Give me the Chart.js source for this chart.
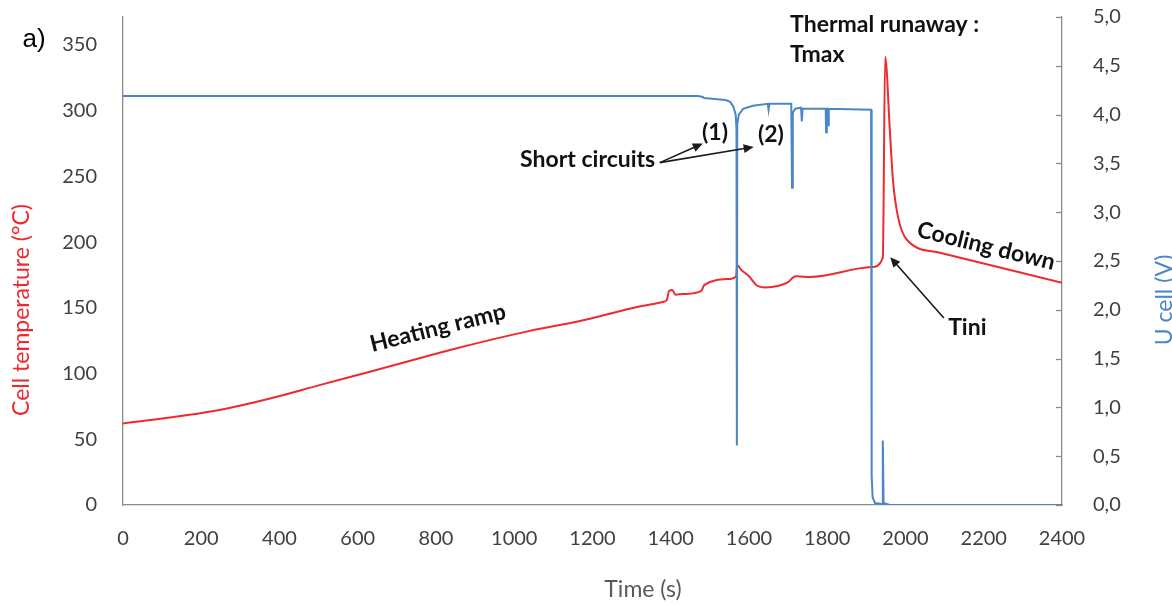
<!DOCTYPE html>
<html>
<head>
<meta charset="utf-8">
<script src="https://cdn.jsdelivr.net/npm/chart.js@4.4.1/dist/chart.umd.min.js"></script>
<style>
  html, body { margin: 0; padding: 0; background: #ffffff; }
  #wrap { width: 1172px; height: 605px; }
</style>
</head>
<body>
<div id="wrap"><canvas id="c" width="1172" height="605"></canvas></div>
<script>
// Cell temperature record (time in s, temperature in °C)
const tempTime = [0, 120, 250, 376, 500, 631, 760, 836, 1040, 1168, 1314, 1380, 1390, 1396, 1404, 1412,
  1431, 1478, 1486, 1551, 1567, 1570, 1580, 1600, 1620, 1640, 1700, 1712, 1722, 1756, 1914, 1942, 1948,
  1960, 1968, 1981, 2004, 2088, 2400];
const tempC = [62, 66.5, 72.5, 81, 91, 101.4, 111.8, 118, 132.5, 140, 150.6, 154.5, 156, 163, 163.5, 160,
  160.5, 163, 167.5, 172, 174, 182.5, 179, 174, 167, 165.5, 169.5, 173, 174, 173.5, 181, 188, 341,
  285, 247, 219, 201.6, 192, 169];

// Cell voltage record (time in s, voltage in V)
const voltTime = [0, 1470, 1482, 1485, 1540, 1552, 1560, 1566, 1568, 1569, 1570, 1574, 1585, 1610, 1648,
  1650, 1652, 1708, 1710, 1712, 1718, 1733, 1735, 1737, 1796, 1797, 1799, 1801, 1802, 1804, 1912, 1913,
  1914, 1916, 1922, 1940, 1942, 1944, 1960, 2400];
const voltU = [4.19, 4.19, 4.18, 4.17, 4.15, 4.13, 4.08, 4.0, 3.85, 0.61, 3.9, 4.0, 4.06, 4.09, 4.11,
  4.05, 4.11, 4.11, 3.25, 4.02, 4.06, 4.07, 3.93, 4.06, 4.06, 3.82, 4.06, 4.06, 3.89, 4.06, 4.05, 4.0,
  0.3, 0.08, 0.02, 0.01, 0.66, 0.02, 0, 0];

// Axis tick values
const timeTicks = [0, 200, 400, 600, 800, 1000, 1200, 1400, 1600, 1800, 2000, 2200, 2400];
const tempTicks = [0, 50, 100, 150, 200, 250, 300, 350];
const voltTicks = [0, 0.5, 1.0, 1.5, 2.0, 2.5, 3.0, 3.5, 4.0, 4.5, 5.0];

const RED = '#EE2A2F';
const BLUE = '#4A86C8';
const AXIS_GREY = '#8C8C8C';
const LABEL_GREY = '#404040';
const FONT = 'Lato, "Open Sans", sans-serif';

const toPoints = (xs, ys) => xs.map((t, i) => ({ x: t, y: ys[i] }));
const setTicks = values => scale => { scale.ticks = values.map(v => ({ value: v })); };
const fixWidth = w => scale => {
  scale.width = w;
  scale.paddingTop = 0;
  scale.paddingBottom = 0;
};

// Annotations, positioned in (time, temperature) data space
const notes = {
  draw(chart) {
    const { ctx, scales: { x, yT, yV } } = chart;
    const P = (t, v) => [x.getPixelForValue(t), yT.getPixelForValue(v)];

    ctx.save();
    // tick marks of the voltage axis point into the plot
    ctx.strokeStyle = AXIS_GREY;
    ctx.lineWidth = 1.3;
    voltTicks.forEach(v => {
      const py = Math.round(yV.getPixelForValue(v)) + 0.5;
      ctx.beginPath();
      ctx.moveTo(yV.left - 6, py);
      ctx.lineTo(yV.left, py);
      ctx.stroke();
    });

    const text = (s, t, v, opt = {}) => {
      const [px, py] = P(t, v);
      ctx.save();
      ctx.translate(px, py);
      if (opt.rot) ctx.rotate(opt.rot * Math.PI / 180);
      ctx.font = opt.font || `bold 23px ${FONT}`;
      ctx.fillStyle = opt.color || '#111111';
      ctx.textAlign = opt.align || 'left';
      ctx.textBaseline = 'middle';
      ctx.fillText(s, 0, 0);
      ctx.restore();
    };
    const arrow = (t0, v0, t1, v1) => {
      const [x0, y0] = P(t0, v0);
      const [x1, y1] = P(t1, v1);
      const a = Math.atan2(y1 - y0, x1 - x0);
      const L = 10, W = 4.5;
      ctx.strokeStyle = '#1a1a1a';
      ctx.fillStyle = '#1a1a1a';
      ctx.lineWidth = 1.6;
      ctx.beginPath();
      ctx.moveTo(x0, y0);
      ctx.lineTo(x1 - Math.cos(a) * L * 0.8, y1 - Math.sin(a) * L * 0.8);
      ctx.stroke();
      ctx.beginPath();
      ctx.moveTo(x1, y1);
      ctx.lineTo(x1 - Math.cos(a) * L - Math.sin(a) * W, y1 - Math.sin(a) * L + Math.cos(a) * W);
      ctx.lineTo(x1 - Math.cos(a) * L + Math.sin(a) * W, y1 - Math.sin(a) * L - Math.cos(a) * W);
      ctx.closePath();
      ctx.fill();
    };

    text('Thermal runaway :', 1705, 365.2);
    text('Tmax', 1705, 342.4);
    text('Short circuits', 1015, 262.5);
    text('(1)', 1513, 283, { align: 'center' });
    text('(2)', 1656, 281.5, { align: 'center' });
    arrow(1372, 260.5, 1482, 275);
    arrow(1372, 260.5, 1612, 272.4);
    text('Heating ramp', 805, 134.7, { align: 'center', rot: -14 });
    text('Cooling down', 2206, 197, { align: 'center', rot: 13.7 });
    text('Tini', 2109, 134.7);
    arrow(2098, 142.3, 1961, 188.5);

    // axis titles and panel letter
    const plain = (s, px, py, color, font, rot) => {
      ctx.save();
      ctx.translate(px, py);
      if (rot) ctx.rotate(rot * Math.PI / 180);
      ctx.font = font;
      ctx.fillStyle = color;
      ctx.textAlign = 'center';
      ctx.textBaseline = 'middle';
      ctx.fillText(s, 0, 0);
      ctx.restore();
    };
    plain('Cell temperature (°C)', 22, 310, RED, `23px ${FONT}`, -90);
    plain('U cell (V)', 1165, 300, BLUE, `23px ${FONT}`, -90);
    plain('Time (s)', 643, 590, '#595959', `23px ${FONT}`, 0);
    plain('a)', 34, 40, '#000000', '26px "Liberation Sans", Arial, sans-serif', 0);
    ctx.restore();
  }
};

new Chart(document.getElementById('c'), {
  type: 'line',
  data: {
    datasets: [
      {
        label: 'U cell (V)',
        data: toPoints(voltTime, voltU),
        yAxisID: 'yV',
        borderColor: BLUE,
        borderWidth: 2,
        pointRadius: 0,
        tension: 0,
        fill: false
      },
      {
        label: 'Cell temperature (°C)',
        data: toPoints(tempTime, tempC),
        yAxisID: 'yT',
        borderColor: RED,
        borderWidth: 2,
        pointRadius: 0,
        cubicInterpolationMode: 'monotone',
        fill: false
      }
    ]
  },
  options: {
    responsive: false,
    animation: false,
    devicePixelRatio: 1,
    layout: { padding: { top: 17, left: 0, right: 0, bottom: 0 } },
    plugins: { legend: { display: false }, tooltip: { enabled: false } },
    scales: {
      x: {
        type: 'linear',
        min: 0,
        max: 2400,
        afterBuildTicks: setTicks(timeTicks),
        afterFit: s => { s.height = 100; s.paddingLeft = 0; s.paddingRight = 0; },
        grid: { display: false, drawTicks: false },
        border: { display: true, color: AXIS_GREY, width: 1.3 },
        ticks: {
          padding: 22, color: LABEL_GREY, font: { family: FONT, size: 20 }, maxRotation: 0, autoSkip: false,
          callback: v => String(v)
        }
      },
      yT: {
        type: 'linear',
        position: 'left',
        min: 0,
        max: 371.3,
        afterBuildTicks: setTicks(tempTicks),
        afterFit: fixWidth(123),
        grid: { display: false, drawTicks: false },
        border: { display: true, color: AXIS_GREY, width: 1.3 },
        ticks: { padding: 26, color: LABEL_GREY, font: { family: FONT, size: 20 } }
      },
      yV: {
        type: 'linear',
        position: 'right',
        min: 0,
        max: 5,
        afterBuildTicks: setTicks(voltTicks),
        afterFit: fixWidth(110),
        grid: { display: false, drawTicks: false },
        border: { display: true, color: AXIS_GREY, width: 1.3 },
        ticks: {
          padding: 31,
          color: LABEL_GREY,
          font: { family: FONT, size: 20 },
          callback: v => v.toFixed(1).replace('.', ',')
        }
      }
    }
  },
  plugins: [{ id: 'notes', afterDraw: chart => notes.draw(chart) }]
});
</script>
</body>
</html>
